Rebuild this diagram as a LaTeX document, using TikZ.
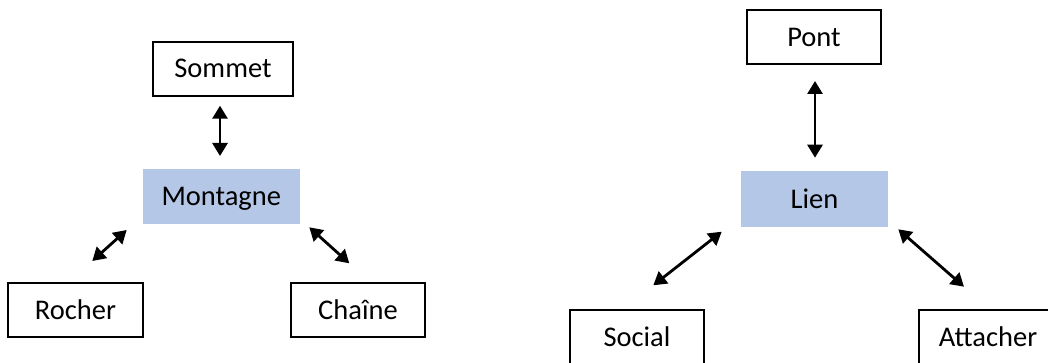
\documentclass[tikz,border=0pt]{standalone}
\usepackage{fontspec}
\setmainfont{Carlito}
\usetikzlibrary{arrows.meta}
\definecolor{boxblue}{HTML}{B4C7E7}
\begin{document}
\begin{tikzpicture}[x=1pt,y=-1pt,
  wbox/.style={draw=black, line width=2pt, fill=white, inner sep=0pt,
    minimum height=54pt, text height=18pt, text depth=0pt,
    font=\fontsize{28.5}{34}\selectfont},
  cbox/.style={fill=boxblue, draw=none, inner sep=0pt,
    minimum height=55pt, text height=18pt, text depth=0pt,
    font=\fontsize{28.5}{34}\selectfont},
  arr/.style={line width=2.8pt, {Triangle[length=13pt,width=15pt]}-{Triangle[length=13pt,width=15pt]}}]
\useasboundingbox (0,0) rectangle (1048,363);
\clip (0,0) rectangle (1048,363);
% left group
\node[wbox, minimum width=140.6pt] (sommet) at (223,69) {Sommet};
\node[cbox, minimum width=157.3pt] (montagne) at (221.3,196.8) {Montagne};
\node[wbox, minimum width=134.4pt] (rocher) at (75.5,310.2) {Rocher};
\node[wbox, minimum width=134pt] (chaine) at (358,310) {Chaîne};
% right group
\node[wbox, minimum width=134.6pt] (pont) at (814,37.2) {Pont};
\node[cbox, minimum width=147pt, minimum height=55.4pt] (lien) at (814.5,199) {Lien};
\node[wbox, minimum width=134pt] (social) at (637,337) {Social};
\node[wbox, minimum width=138.6pt] (attacher) at (988,337) {Attacher};
% connector ends
\coordinate (s1) at (220,105.7);
\coordinate (s2) at (220,156);
\coordinate (r1) at (126.7,230);
\coordinate (r2) at (92.3,261);
\coordinate (c1) at (309.3,227.3);
\coordinate (c2) at (349.3,263.3);
\coordinate (p1) at (815,81);
\coordinate (p2) at (815,157.7);
\coordinate (so1) at (721.7,231.7);
\coordinate (so2) at (653.3,285.3);
\coordinate (a1) at (898.3,229.3);
\coordinate (a2) at (964,286.7);
% connectors
\draw[arr] (s1) -- (s2);
\draw[arr] (r1) -- (r2);
\draw[arr] (c1) -- (c2);
\draw[arr] (p1) -- (p2);
\draw[arr] (so1) -- (so2);
\draw[arr] (a1) -- (a2);
\end{tikzpicture}
\end{document}
